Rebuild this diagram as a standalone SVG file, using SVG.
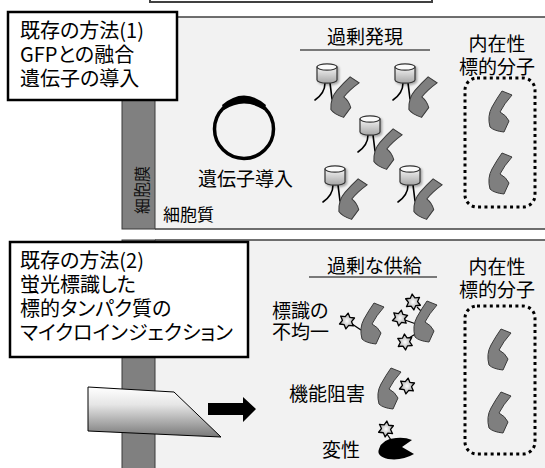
<svg xmlns="http://www.w3.org/2000/svg" xmlns:xlink="http://www.w3.org/1999/xlink" width="545" height="468" viewBox="0 0 545 468">
  <style>
    text { font-family: "Noto Sans CJK JP", "Noto Sans", sans-serif; fill: #000; font-feature-settings: "palt"; }
    .lbl { font-size: 20px; }
    .mid { font-size: 19px; }
    .ctr { text-anchor: middle; }
    .panel { fill: #f2f2f2; }
    .edge { stroke: #404040; stroke-width: 1.5; fill: none; }
    .membrane { fill: #808080; stroke: #3a3a3a; stroke-width: 1; }
    .box { fill: #fff; stroke: #000; stroke-width: 2.5; }
    .dots { fill: none; stroke: #000; stroke-width: 3; stroke-dasharray: 3 3.4; }
    .prot { fill: #7f7f7f; stroke: #3a3a3a; stroke-width: 1; }
    .star { fill: url(#starG); stroke: #000; stroke-width: 1.3; stroke-linejoin: round; }
    .stick { stroke: #000; stroke-width: 1.3; fill: none; }
    .leg { stroke: #000; stroke-width: 1.6; fill: none; stroke-linecap: round; }
  </style>
  <defs>
    <linearGradient id="cylG" x1="0" y1="0" x2="0" y2="1">
      <stop offset="0" stop-color="#f4f4f4"/>
      <stop offset="1" stop-color="#a6a6a6"/>
    </linearGradient>
    <radialGradient id="starG" cx="0.5" cy="0.5" r="0.55">
      <stop offset="0" stop-color="#ffffff"/>
      <stop offset="1" stop-color="#9a9a9a"/>
    </radialGradient>
    <linearGradient id="needleG" x1="0" y1="0" x2="0" y2="1">
      <stop offset="0" stop-color="#ffffff"/>
      <stop offset="0.35" stop-color="#e6e6e6"/>
      <stop offset="1" stop-color="#787878"/>
    </linearGradient>
    <filter id="sh" x="-30%" y="-30%" width="170%" height="170%">
      <feDropShadow dx="1.5" dy="1.5" stdDeviation="1.2" flood-color="#000" flood-opacity="0.35"/>
    </filter>
    <!-- target protein outline -->
    <path id="prot" class="prot" d="M14 1 L24 5 Q16 14 12 22 Q18 25 21 31 L16 42 Q6 41 2 37 Q-1 26 4 17 Q9 8 14 1 Z"/>
    <!-- six-point label star -->
    <polygon id="star" class="star" points="0,-8 2.3,-4 7,-4 4.6,0 7,4 2.3,4 0,8 -2.3,4 -7,4 -4.6,0 -7,-4 -2.3,-4"/>
    <!-- fused tag (cylinder on two legs) -->
    <g id="cyl">
      <path class="leg" d="M8 20 Q8 30 -2 37"/>
      <path class="leg" d="M13 20 Q14 28 15 36"/>
      <g filter="url(#sh)">
        <path d="M0 4 V17 A10 3.2 0 0 0 20 17 V4 Z" fill="url(#cylG)" stroke="#333" stroke-width="1.2"/>
        <ellipse cx="10" cy="4" rx="10" ry="3.2" fill="#fafafa" stroke="#333" stroke-width="1.2"/>
      </g>
    </g>
  </defs>

  <rect width="545" height="468" fill="#fff"/>

  <!-- header box cut by the top edge -->
  <rect x="150" y="-20" width="282" height="22" fill="#fff" stroke="#404040" stroke-width="2"/>

  <!-- ===== panel 1: gene transfer ===== -->
  <g id="panel1">
    <rect class="panel" x="155" y="17" width="390" height="212"/>
    <path class="edge" d="M155 17 H545 M155 229 H545"/>
    <rect id="membrane1" class="membrane" x="122" y="17" width="33" height="212"/>
    <text transform="translate(148,190) rotate(-90)" class="ctr" style="font-size:16px;fill:#111">細胞膜</text>
    <text x="163" y="221" style="font-size:17px">細胞質</text>
  </g>

  <g id="label1">
    <rect class="box" x="8" y="12" width="169" height="88"/>
    <text class="lbl" x="20" y="38">既存の方法(1)</text>
    <text class="lbl" x="20" y="62">GFPとの融合</text>
    <text class="lbl" x="20" y="86">遺伝子の導入</text>
  </g>

  <g id="plasmid">
    <circle cx="244" cy="129" r="29.5" fill="none" stroke="#000" stroke-width="3.5"/>
    <path d="M222 105 Q244 86 266 105 L264 110 Q244 97 224 110 Z" fill="#000"/>
    <text class="mid" x="198" y="186">遺伝子導入</text>
  </g>

  <g id="overexpression">
    <text class="mid" x="327" y="44">過剰発現</text>
    <line x1="300" y1="50" x2="430" y2="50" stroke="#000" stroke-width="1.2"/>
    <use href="#cyl" transform="translate(317,63)"/>
    <use href="#prot" transform="translate(332,75) rotate(12 12 21)"/>
    <use href="#cyl" transform="translate(395,63)"/>
    <use href="#prot" transform="translate(410,75) rotate(12 12 21)"/>
    <use href="#cyl" transform="translate(360,115)"/>
    <use href="#prot" transform="translate(375,127) rotate(12 12 21)"/>
    <use href="#cyl" transform="translate(325,165)"/>
    <use href="#prot" transform="translate(340,177) rotate(12 12 21)"/>
    <use href="#cyl" transform="translate(400,165)"/>
    <use href="#prot" transform="translate(415,177) rotate(12 12 21)"/>
  </g>

  <g id="endogenous1">
    <text class="mid ctr" x="497" y="51">内在性</text>
    <text class="mid ctr" x="497" y="74">標的分子</text>
    <rect class="dots" x="465" y="78" width="70" height="129" rx="12"/>
    <use href="#prot" transform="translate(488,90)"/>
    <use href="#prot" transform="translate(488,152)"/>
  </g>

  <!-- ===== panel 2: microinjection ===== -->
  <g id="panel2">
    <rect class="panel" x="155" y="240" width="390" height="228"/>
    <path class="edge" d="M155 240 H545"/>
    <rect id="membrane2" class="membrane" x="122" y="240" width="33" height="230"/>
  </g>

  <g id="label2">
    <rect class="box" x="10" y="242" width="238" height="115"/>
    <text class="lbl" x="20" y="268">既存の方法(2)</text>
    <text class="lbl" x="20" y="292">蛍光標識した</text>
    <text class="lbl" x="20" y="316">標的タンパク質の</text>
    <text class="lbl" x="20" y="340">マイクロインジェクション</text>
  </g>

  <g id="needle">
    <polygon points="88,387 174,392 221,437 88,431" fill="url(#needleG)" stroke="#000" stroke-width="1"/>
  </g>

  <g id="connectors">
    <polygon points="208,403 243,403 243,397 256,409 243,422 243,415 208,415" fill="#000"/>
  </g>

  <g id="excess">
    <text class="mid" x="327" y="273">過剰な供給</text>
    <line x1="309" y1="277" x2="437" y2="277" stroke="#000" stroke-width="1.2"/>
  </g>

  <g id="uneven">
    <text class="mid" x="272" y="318">標識の</text>
    <text class="mid" x="272" y="339">不均一</text>
    <path class="stick" d="M352 324 L361 330"/>
    <use href="#prot" transform="translate(360,302)"/>
    <use href="#star" transform="translate(347,321) rotate(8)"/>
    <path class="stick" d="M417 307 L422 312 M405 320 L416 324 M409 338 L417 333"/>
    <use href="#prot" transform="translate(413,300)"/>
    <use href="#star" transform="translate(413,302) rotate(-6)"/>
    <use href="#star" transform="translate(400,318) rotate(10)"/>
    <use href="#star" transform="translate(405,342) rotate(-4)"/>
  </g>

  <g id="inhibition">
    <text class="mid" x="289" y="401">機能阻害</text>
    <use href="#prot" transform="translate(377,367)"/>
    <use href="#star" transform="translate(407,386) rotate(8)"/>
  </g>

  <g id="denatured">
    <text class="mid" x="322" y="457">変性</text>
    <path class="stick" d="M387 434 L391 440"/>
    <path d="M379 449 Q382 439 396 438 Q405 437 412 440 L402 447 L414 454 Q402 461 388 459 Q376 456 379 449 Z" fill="#000"/>
    <use href="#star" transform="translate(386,429) rotate(6)"/>
  </g>

  <g id="endogenous2">
    <text class="mid ctr" x="497" y="274">内在性</text>
    <text class="mid ctr" x="497" y="297">標的分子</text>
    <rect class="dots" x="465" y="306" width="70" height="148" rx="12"/>
    <use href="#prot" transform="translate(487,328)"/>
    <use href="#prot" transform="translate(487,391)"/>
  </g>
</svg>
